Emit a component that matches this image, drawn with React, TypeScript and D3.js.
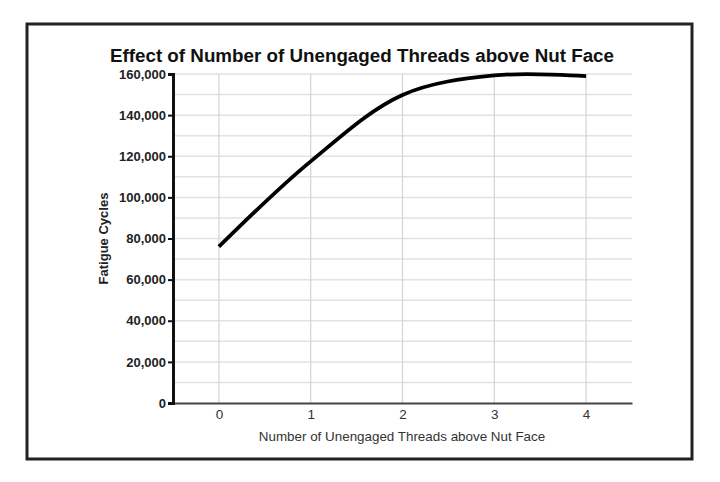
import React, { useEffect, useRef } from 'react';
import * as d3 from 'd3';

const threads = [0, 1, 2, 3, 4];
const cycles = [76000, 117500, 149800, 159300, 159000];
const yTicks = [0, 20000, 40000, 60000, 80000, 100000, 120000, 140000, 160000];
const yMinor = [10000, 30000, 50000, 70000, 90000, 110000, 130000, 150000];

export default function App() {
    const svgRef = useRef<SVGSVGElement>(null);

    useEffect(() => {
        if (!svgRef.current) return;
        const svg = d3.select(svgRef.current);
        svg.selectAll("*").remove();

        const font = "'Liberation Sans', Arial, sans-serif";
        const left = 173, right = 632, top = 74, bottom = 403;

        // outer frame
        svg.append("rect")
            .attr("x", 27).attr("y", 24)
            .attr("width", 665).attr("height", 435)
            .attr("fill", "white")
            .attr("stroke", "#222")
            .attr("stroke-width", 3);

        const x = d3.scaleLinear().domain([-0.5, 4.5]).range([left, right]);
        const y = d3.scaleLinear().domain([0, 160000]).range([bottom, top]);

        // grid
        svg.append("g").selectAll("line")
            .data([...yTicks.slice(1), ...yMinor])
            .join("line")
            .attr("x1", left).attr("x2", right)
            .attr("y1", d => y(d)).attr("y2", d => y(d))
            .attr("stroke", "#e2e2e2")
            .attr("stroke-width", 1.5);

        svg.append("g").selectAll("line")
            .data(threads)
            .join("line")
            .attr("x1", d => x(d)).attr("x2", d => x(d))
            .attr("y1", top).attr("y2", bottom)
            .attr("stroke", "#d4d4d4")
            .attr("stroke-width", 1.2);

        // x axis
        const gx = svg.append("g")
            .attr("transform", `translate(0,${bottom})`)
            .call(d3.axisBottom(x).tickValues(threads).tickSize(0).tickPadding(6).tickFormat(d3.format("d")));
        gx.select(".domain").attr("stroke", "#444").attr("stroke-width", 2);
        gx.selectAll("text").style("font-family", font).style("font-size", "13.5px").attr("fill", "#333");

        // y axis
        const gy = svg.append("g")
            .attr("transform", `translate(${left},0)`)
            .call(d3.axisLeft(y).tickValues(yTicks).tickSize(5).tickPadding(2).tickFormat(d3.format(",")));
        gy.select(".domain").attr("stroke", "#111").attr("stroke-width", 3);
        gy.selectAll(".tick line").attr("stroke", "#111").attr("stroke-width", 2);
        gy.selectAll("text").style("font-family", font).style("font-size", "13px").style("font-weight", "bold").attr("fill", "#222");

        // line
        const line = d3.line<number>()
            .x((d, i) => x(threads[i]))
            .y(d => y(d))
            .curve(d3.curveCatmullRom.alpha(0.5));
        svg.append("path")
            .datum(cycles)
            .attr("d", line)
            .attr("fill", "none")
            .attr("stroke", "#000")
            .attr("stroke-width", 3.8);

        // title
        svg.append("text")
            .attr("x", 362).attr("y", 62)
            .attr("text-anchor", "middle")
            .style("font-family", font).style("font-size", "18.8px").style("font-weight", "bold")
            .attr("fill", "#111")
            .text("Effect of Number of Unengaged Threads above Nut Face");

        svg.append("text")
            .attr("x", 402).attr("y", 441)
            .attr("text-anchor", "middle")
            .style("font-family", font).style("font-size", "13.4px")
            .attr("fill", "#333")
            .text("Number of Unengaged Threads above Nut Face");

        svg.append("text")
            .attr("transform", `translate(108,${(top + bottom) / 2}) rotate(-90)`)
            .attr("text-anchor", "middle")
            .style("font-family", font).style("font-size", "13px").style("font-weight", "bold")
            .attr("fill", "#222")
            .text("Fatigue Cycles");
    }, []);

    return (
        <svg ref={svgRef} width={720} height={482}
            style={{ position: 'absolute', left: 0, top: 0, background: 'white' }} />
    );
}
